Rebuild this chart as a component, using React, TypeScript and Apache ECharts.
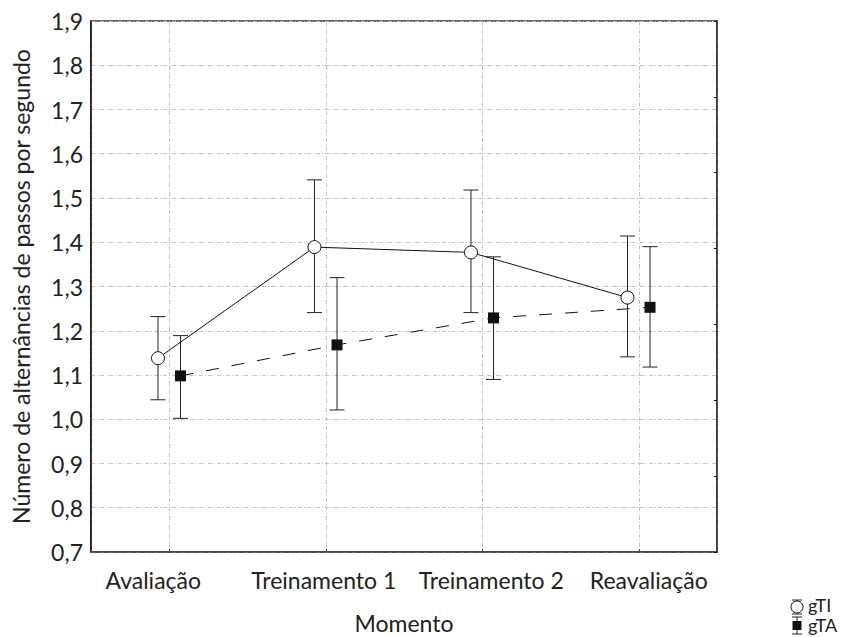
import React, { useEffect, useRef } from "react";
import * as echarts from "echarts";

const categories = ["Avaliação", "Treinamento 1", "Treinamento 2", "Reavaliação"];
const gTIMean = [1.138, 1.389, 1.377, 1.275];
const gTILow = [1.044, 1.241, 1.241, 1.141];
const gTIHigh = [1.232, 1.541, 1.518, 1.414];
const gTAMean = [1.098, 1.168, 1.229, 1.253];
const gTALow = [1.002, 1.021, 1.09, 1.118];
const gTAHigh = [1.189, 1.32, 1.367, 1.39];
const yTicks = { min: 0.7, max: 1.9, step: 0.1 };
const seriesNames = ["gTI", "gTA"];

const OFF = 0.072;
const FONT = "Lato, 'Open Sans', sans-serif";
const TXT = "#222";
// horizontal nudges of the category labels (px), as in the reference
const labelShift = [-16, -2, 9, 10];

export default function App() {
  const ref = useRef<HTMLDivElement>(null);
  useEffect(() => {
    if (!ref.current) return;
    const chart = echarts.init(ref.current, undefined, { renderer: "svg" });

    const errItem = (params: any, api: any) => {
      const x = api.value(0);
      const lo = api.coord([x, api.value(1)]);
      const hi = api.coord([x, api.value(2)]);
      const hw = 7.5;
      const st = { stroke: "#222", lineWidth: 1 };
      return {
        type: "group",
        children: [
          { type: "line", shape: { x1: lo[0], y1: lo[1], x2: hi[0], y2: hi[1] }, style: st },
          { type: "line", shape: { x1: lo[0] - hw, y1: lo[1], x2: lo[0] + hw, y2: lo[1] }, style: st },
          { type: "line", shape: { x1: hi[0] - hw, y1: hi[1], x2: hi[0] + hw, y2: hi[1] }, style: st },
        ],
      };
    };

    const lx = 797;
    const capSt = { stroke: "#222", lineWidth: 1 };
    const txtSt = { fontSize: 18, fontFamily: FONT, fill: TXT, verticalAlign: "middle", lineHeight: 18 };
    const legend = [
      { type: "line", shape: { x1: lx, y1: 600, x2: lx, y2: 614 }, style: capSt },
      { type: "line", shape: { x1: lx - 5, y1: 600, x2: lx + 5, y2: 600 }, style: capSt },
      { type: "line", shape: { x1: lx - 5, y1: 614, x2: lx + 5, y2: 614 }, style: capSt },
      { type: "circle", shape: { cx: lx, cy: 607, r: 6 }, style: { fill: "#fff", stroke: "#111", lineWidth: 1 } },
      { type: "text", x: 808, y: 605, style: { ...txtSt, text: seriesNames[0] } },
      { type: "line", shape: { x1: lx, y1: 617, x2: lx, y2: 634 }, style: capSt },
      { type: "line", shape: { x1: lx - 5, y1: 617, x2: lx + 5, y2: 617 }, style: capSt },
      { type: "line", shape: { x1: lx - 5, y1: 634, x2: lx + 5, y2: 634 }, style: capSt },
      { type: "rect", shape: { x: lx - 4.5, y: 621, width: 9, height: 9 }, style: { fill: "#111" } },
      { type: "text", x: 808, y: 625, style: { ...txtSt, text: seriesNames[1] } },
    ];

    const rich: any = {};
    labelShift.forEach((s, i) => {
      rich["c" + i] = {
        fontFamily: FONT,
        fontSize: 23,
        color: TXT,
        padding: [0, s < 0 ? -2 * s : 0, 0, s > 0 ? 2 * s : 0],
      };
    });

    chart.setOption({
      animation: false,
      backgroundColor: "#fff",
      grid: {
        left: 91,
        right: 135,
        top: 21,
        bottom: 85,
        outerBoundsMode: "none",
        containLabel: false,
        show: true,
        borderColor: "#333",
        borderWidth: 1.5,
      },
      xAxis: {
        type: "value",
        min: -0.5,
        max: 3.5,
        splitNumber: 4,
        name: "Momento",
        nameLocation: "middle",
        nameGap: 59,
        nameTextStyle: { fontFamily: FONT, fontSize: 23, color: TXT },
        axisLine: { show: true, onZero: false, lineStyle: { color: "#444", width: 1.5 } },
        axisTick: { show: true, inside: true, length: 3, lineStyle: { color: "#444" } },
        axisLabel: {
          fontFamily: FONT,
          fontSize: 23,
          color: TXT,
          margin: 16,
          rich,
          formatter: (v: number) =>
            Number.isInteger(v) && categories[v] ? `{c${v}|${categories[v]}}` : "",
        },
        splitLine: { show: true, lineStyle: { color: "#c4c4c4", type: [4, 2, 1, 2], width: 1 } },
      },
      yAxis: [
        {
          type: "value",
          min: yTicks.min,
          max: yTicks.max,
          interval: yTicks.step,
          name: "Número de alternâncias de passos por segundo",
          nameLocation: "middle",
          nameGap: 59,
          nameTextStyle: { fontFamily: FONT, fontSize: 23, color: TXT },
          axisLine: { show: true, onZero: false, lineStyle: { color: "#111", width: 1.5 } },
          axisTick: { show: false },
          axisLabel: {
            fontFamily: FONT,
            fontSize: 23,
            color: TXT,
            margin: 8,
            formatter: (v: number) => v.toFixed(1).replace(".", ","),
          },
          splitLine: { show: true, lineStyle: { color: "#c4c4c4", type: [4, 2, 1, 2], width: 1 } },
        },
        {
          type: "value",
          position: "right",
          min: 0,
          max: 7,
          interval: 1,
          axisLine: { show: true, onZero: false, lineStyle: { color: "#333", width: 1.5 } },
          axisTick: { show: true, inside: true, length: 3, lineStyle: { color: "#111" } },
          axisLabel: { show: false },
          splitLine: { show: false },
        },
      ],
      series: [
        {
          name: "gTI err",
          type: "custom",
          renderItem: errItem,
          data: categories.map((_, i) => [i - OFF, gTILow[i], gTIHigh[i]]),
          encode: { x: 0, y: [1, 2] },
          z: 1,
          silent: true,
        },
        {
          name: "gTA err",
          type: "custom",
          renderItem: errItem,
          data: categories.map((_, i) => [i + OFF, gTALow[i], gTAHigh[i]]),
          encode: { x: 0, y: [1, 2] },
          z: 1,
          silent: true,
        },
        {
          name: seriesNames[1],
          type: "line",
          data: categories.map((_, i) => [i + OFF, gTAMean[i]]),
          symbol: "rect",
          symbolSize: 11,
          itemStyle: { color: "#111" },
          lineStyle: { color: "#111", width: 1, type: [13, 13] },
          z: 3,
        },
        {
          name: seriesNames[0],
          type: "line",
          data: categories.map((_, i) => [i - OFF, gTIMean[i]]),
          symbol: "circle",
          symbolSize: 13,
          itemStyle: { color: "#fff", borderColor: "#111", borderWidth: 1 },
          lineStyle: { color: "#111", width: 1 },
          z: 4,
        },
      ],
      graphic: legend,
    });
    return () => chart.dispose();
  }, []);
  return <div ref={ref} style={{ width: 852, height: 637, position: "fixed", left: 0, top: 0 }} />;
}
